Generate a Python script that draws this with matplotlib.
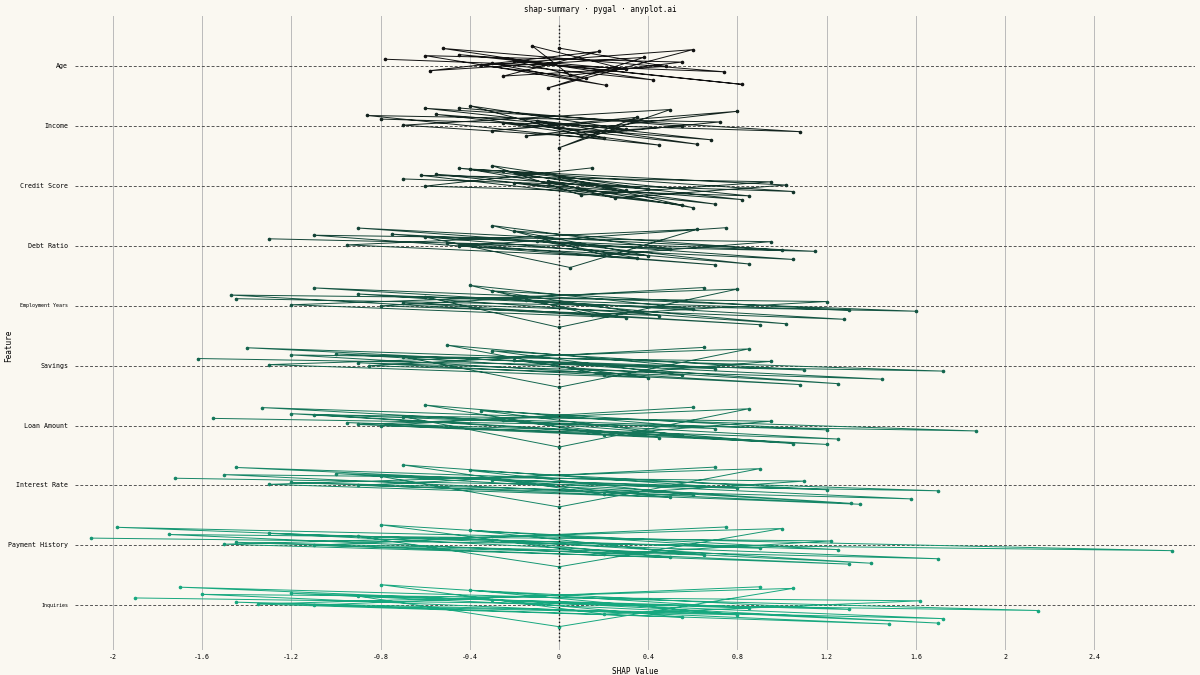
import matplotlib
matplotlib.use("Agg")
import matplotlib.pyplot as plt
import numpy as np
from matplotlib.colors import to_rgb

features = ["Age", "Income", "Credit Score", "Debt Ratio", "Employment Years",
            "Savings", "Loan Amount", "Interest Rate", "Payment History", "Inquiries"]

shap_x = {
    "Age": [-0.78, 0.74, -0.52, 0.42, -0.3, 0.21, -0.6, 0.55, 0.05, -0.12, 0.3, -0.45, 0.82, -0.2, 0.12, -0.35, 0.6, -0.05, 0.38, -0.58, 0.18, -0.25, 0.48, 0.0],
    "Income": [-0.8, 1.08, -0.6, 0.68, -0.25, 0.45, -0.86, 0.72, 0.1, -0.4, 0.3, -0.55, 0.62, -0.1, 0.2, -0.7, 0.5, 0.0, 0.35, -0.3, 0.8, -0.15, 0.55, -0.45],
    "Credit Score": [-0.7, 1.05, -0.45, 0.82, -0.2, 0.55, -0.62, 0.95, 0.1, -0.3, 0.4, -0.55, 0.7, -0.05, 0.25, 1.02, -0.4, 0.6, 0.0, 0.3, -0.25, 0.85, -0.6, 0.15],
    "Debt Ratio": [-1.3, 1.15, -0.9, 1.05, -0.5, 0.7, -1.1, 0.95, 0.2, -0.3, 0.5, -0.75, 0.85, -0.1, 0.35, -0.95, 0.62, 0.05, -0.6, 1.0, -0.2, 0.4, -0.45, 0.75],
    "Employment Years": [-1.45, 1.6, -1.1, 1.28, -0.7, 0.9, -1.47, 1.2, 0.15, -0.4, 0.6, -0.9, 1.02, -0.15, 0.3, -1.2, 0.8, 0.0, -0.6, 1.3, -0.3, 0.45, -0.8, 0.65],
    "Savings": [-1.62, 1.72, -1.4, 1.45, -0.9, 1.08, -1.2, 0.95, 0.2, -0.5, 0.7, -1.0, 1.25, -0.2, 0.4, -1.3, 0.85, 0.0, -0.7, 1.1, -0.3, 0.55, -0.85, 0.65],
    "Loan Amount": [-1.55, 1.87, -1.33, 1.25, -0.95, 1.2, -1.1, 0.95, 0.2, -0.6, 0.7, -1.2, 1.05, -0.25, 0.45, -0.9, 0.85, 0.0, -0.7, 1.2, -0.35, 0.55, -0.8, 0.6],
    "Interest Rate": [-1.72, 1.7, -1.45, 1.58, -1.2, 1.35, -1.5, 1.1, 0.2, -0.7, 0.8, -1.0, 1.31, -0.3, 0.5, -1.3, 0.9, 0.0, -0.8, 1.2, -0.4, 0.6, -0.9, 0.7],
    "Payment History": [-2.1, 2.75, -1.98, 1.7, -1.45, 1.3, -1.75, 1.22, 0.2, -0.8, 0.9, -1.3, 1.4, -0.3, 0.5, -1.5, 1.0, 0.0, -0.9, 1.25, -0.4, 0.65, -1.1, 0.75],
    "Inquiries": [-1.9, 2.15, -1.7, 1.72, -1.45, 1.48, -1.6, 1.62, 0.2, -0.8, 0.85, -1.2, 1.7, -0.3, 0.55, -1.35, 1.05, 0.0, -0.9, 1.3, -0.4, 0.8, -1.1, 0.9],
}
jitter_y = [0.12, -0.1, 0.3, -0.25, 0.05, -0.35, 0.18, 0.08, -0.15, 0.38, -0.05, 0.22, -0.3, 0.1, -0.2, 0.02, 0.28, -0.4, 0.15, -0.08, 0.25, -0.18, 0.0, 0.34]

bg = "#faf8f1"
mono = "DejaVu Sans Mono"
c0, c1 = np.array(to_rgb("#111111")), np.array(to_rgb("#17a87f"))

fig = plt.figure(figsize=(12, 6.75), dpi=100, facecolor=bg)
ax = fig.add_axes([0.0625, 0.037, 0.933, 0.94], facecolor=bg)

n = len(features)
for i, f in enumerate(features):
    y = n - 1 - i
    t = i / (n - 1)
    col = c0 * (1 - t) + c1 * t
    xs = shap_x[f]
    ys = [y + j * (0.9 if (k % 2) else 1.0) for k, j in enumerate(jitter_y[:len(xs)])]
    ax.axhline(y, color="#555555", lw=0.7, ls=(0, (3, 2)), zorder=1)
    ax.plot(xs, ys, color=col, lw=0.7, marker="o", ms=1.6, zorder=3)
    ax.text(-0.006, y, f, transform=ax.get_yaxis_transform(), ha="right", va="center",
            fontsize=(3.6 if f in ("Employment Years", "Inquiries") else 4.8), family=mono)

ax.set_xlim(-2.17, 2.85)
ax.set_ylim(-0.75, n - 1 + 0.85)
ticks = [-2, -1.6, -1.2, -0.8, -0.4, 0, 0.4, 0.8, 1.2, 1.6, 2, 2.4]
ax.set_xticks(ticks)
ax.set_xticklabels([("%g" % v) for v in ticks], fontsize=4.8, family=mono)
for v in ticks:
    ax.axvline(v, color="#bbbbbb", lw=0.7, zorder=0)
ax.axvline(0, color="#111111", lw=1, ls=":", ymin=0.015, ymax=0.985, zorder=4)
ax.set_yticks([])
ax.tick_params(length=0, pad=3)
for s in ax.spines.values():
    s.set_visible(False)
ax.set_xlabel("SHAP Value", fontsize=5.5, family=mono, labelpad=5)
fig.text(0.007, 0.487, "Feature", rotation=90, ha="center", va="center", fontsize=5.5, family=mono)
fig.text(0.5, 0.993, "shap-summary · pygal · anyplot.ai", ha="center", va="top",
         fontsize=5.5, family=mono)
fig.savefig("out.png", dpi=100, facecolor=bg)
